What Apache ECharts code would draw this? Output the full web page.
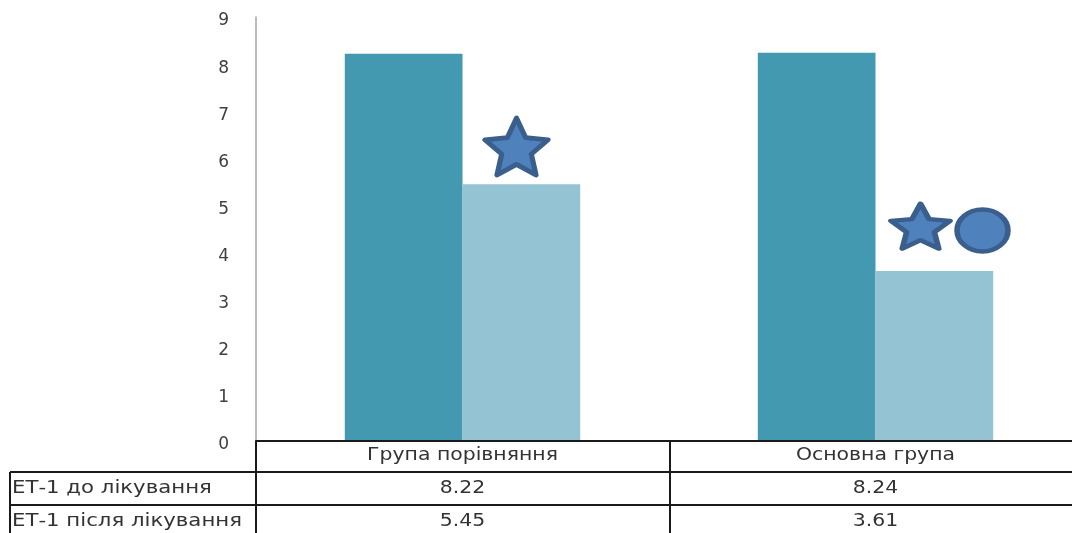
<!DOCTYPE html>
<html>
<head>
<meta charset="utf-8">
<script src="https://cdn.jsdelivr.net/npm/echarts@6/dist/echarts.min.js"></script>
<style>html,body{margin:0;padding:0;background:#fff}#c{width:1072px;height:533px}</style>
</head>
<body>
<div id="c"></div>
<script>
const categories = ['Група порівняння', 'Основна група'];
const seriesNames = ['ЕТ-1 до лікування', 'ЕТ-1 після лікування'];
const before = [8.22, 8.24];
const after = [5.45, 3.61];
const yTicks = [0, 1, 2, 3, 4, 5, 6, 7, 8, 9];
// significance markers (approximate heights)
const starMarks = [['Група порівняння', 6.25], ['Основна група', 4.56]];
const circleMarks = [['Основна група', 4.47]];

// five-point star, inner radius ratio ~0.47
const starPath = 'path://M50 0 L63.8 31 L97.55 34.55 L72.35 57.25 L79.39 90.45 L50 73.5 L20.61 90.45 L27.65 57.25 L2.45 34.55 L36.2 31 Z';
const FONT = 'DejaVu Sans';
const chart = echarts.init(document.getElementById('c'), null, {renderer: 'canvas'});

const option = {
  animation: false,
  backgroundColor: '#fff',
  grid: {left: 256, top: 17, width: 826, height: 424, containLabel: false, outerBoundsMode: 'none'},
  xAxis: {
    type: 'category', data: categories,
    axisLine: {show: true, lineStyle: {color: '#1a1a1a', width: 2}},
    axisTick: {show: false},
    axisLabel: {show: false}
  },
  yAxis: {
    type: 'value', min: 0, max: 9, interval: 1,
    axisLine: {show: true, lineStyle: {color: '#a6a6a6', width: 1.5}},
    axisTick: {show: false},
    splitLine: {show: false},
    axisLabel: {
      margin: 27, fontFamily: FONT, fontSize: 17, color: '#404040',
      verticalAlign: 'top', lineHeight: 8,
      formatter: v => yTicks.includes(v) ? String(v) : ''
    }
  },
  series: [
    {name: seriesNames[0], type: 'bar', data: before, barGap: '0%', barCategoryGap: '43%',
     itemStyle: {color: '#4399b0'}},
    {name: seriesNames[1], type: 'bar', data: after,
     itemStyle: {color: '#94c3d4'}},
    {type: 'scatter', z: 5,
     data: [
       {value: starMarks[0], symbolOffset: [54, 0], symbolSize: [63, 57]},
       {value: starMarks[1], symbolOffset: [45, 0], symbolSize: [59, 45]}
     ],
     symbol: starPath,
     itemStyle: {color: '#4f81bd', borderColor: '#3a5f8c', borderWidth: 5, borderJoin: 'round', opacity: 1}},
    {type: 'scatter', data: circleMarks, symbol: 'circle', symbolSize: [51, 42],
     symbolOffset: [107, 0], z: 5,
     itemStyle: {color: '#4f81bd', borderColor: '#3a5f8c', borderWidth: 5, opacity: 1}}
  ]
};
chart.setOption(option);

// data table below the chart
const cx = categories.map((c) => chart.convertToPixel({xAxisIndex: 0}, c));
const rowY = [456, 489, 522];
const txt = (x, y, text, align, sx) => ({
  type: 'text', x: x, y: y, scaleX: sx, z: 10,
  style: {text: text, fill: '#333', font: '17px "' + FONT + '"',
          textAlign: align, align: align, textVerticalAlign: 'middle', verticalAlign: 'middle'}
});
const ln = (x1, y1, x2, y2) => ({
  type: 'line', z: 10, shape: {x1, y1, x2, y2},
  style: {stroke: '#1a1a1a', lineWidth: 2}
});
const g = [
  ln(256, 441, 1072, 441),
  ln(10, 472, 1072, 472),
  ln(10, 505, 1072, 505),
  ln(10, 472, 10, 533),
  ln(256, 441, 256, 533),
  ln(670, 441, 670, 533)
];
categories.forEach((c, i) => g.push(txt(cx[i], rowY[0], c, 'center', 1.2)));
before.forEach((v, i) => g.push(txt(cx[i], rowY[1], v.toFixed(2), 'center', 1.2)));
after.forEach((v, i) => g.push(txt(cx[i], rowY[2], v.toFixed(2), 'center', 1.2)));
seriesNames.forEach((n, i) => g.push(txt(12, rowY[i + 1], n, 'left', 1.25)));
chart.setOption({graphic: g});
</script>
</body>
</html>
